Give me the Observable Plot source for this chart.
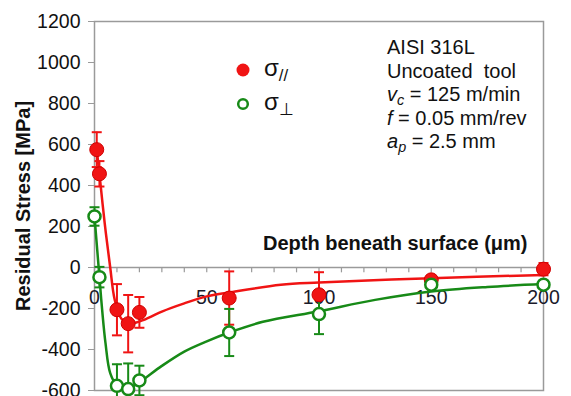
<!DOCTYPE html>
<html>
<head>
<meta charset="utf-8">
<script src="https://cdn.jsdelivr.net/npm/d3@7"></script>
<script src="https://cdn.jsdelivr.net/npm/@observablehq/plot@0.6"></script>
<style>
  body { margin: 0; background: #fff; }
  #wrap { position: relative; width: 571px; height: 396px; font-family: "Liberation Sans", Arial, sans-serif; }
  #wrap > svg { position: absolute; left: 0; top: 0; }
  .note { position: absolute; left: 387px; top: 36px; font-size: 20px; line-height: 23.5px; color: #111; white-space: pre; }
  .leg { position: absolute; left: 264px; font-size: 24px; line-height: 24px; color: #111; white-space: pre; }
  .mk { position: absolute; }
  sub { font-size: 0.72em; vertical-align: -0.3em; line-height: 0; }
</style>
</head>
<body>
<div id="wrap"></div>
<script>
// --- data ---
const depthPar = [1, 2.2, 10, 15, 20, 60, 100, 150, 200];
const stressPar = [575, 457, -206, -274, -219, -149, -133, -60, -8];
const errPar = [85, 62, 125, 140, 75, 130, 110, 20, 30];

const depthPerp = [0, 2.2, 10, 15, 20, 60, 100, 150, 200];
const stressPerp = [249, -47, -577, -593, -551, -317, -227, -84, -84];
const errPerp = [45, 50, 105, 125, 72, 115, 98, 15, 12];

// fitted trend curves
const curveParX = [1, 2.2, 4.5, 7, 9, 12, 15, 18, 22, 30, 40, 50, 60, 83, 100, 150, 200];
const curveParY = [575, 457, 220, 0, -157, -250, -272, -270, -255, -215, -175, -141, -122, -84, -73, -52, -36];
const curvePerpX = [0, 2.2, 3.4, 4.9, 7, 10, 13, 16, 20, 30, 40, 50, 60, 75, 100, 125, 150, 175, 200];
const curvePerpY = [249, -47, -206, -369, -515, -575, -592, -585, -560, -480, -410, -360, -317, -265, -213, -158, -117, -95, -81];

const yTicks = [-600, -400, -200, 0, 200, 400, 600, 800, 1000, 1200];
const xMinor = d3.range(0, 201, 10);
const xLabels = [0, 50, 100, 150, 200];

const RED = "#f01414";
const GREEN = "#178a17";
const GRAY = "#9a9a9a";

const par = depthPar.map((x, i) => ({x, y: stressPar[i], e: errPar[i]}));
const perp = depthPerp.map((x, i) => ({x, y: stressPerp[i], e: errPerp[i]}));
const cPar = curveParX.map((x, i) => ({x, y: curveParY[i]}));
const cPerp = curvePerpX.map((x, i) => ({x, y: curvePerpY[i]}));

const capSymbol = { draw(ctx, size) { const w = 5; ctx.moveTo(-w, 0); ctx.lineTo(w, 0); } };

function errorMarks(data, color) {
  return [
    Plot.ruleX(data, {x: "x", y1: d => d.y - d.e, y2: d => d.y + d.e, stroke: color, strokeWidth: 2}),
    Plot.dot(data, {x: "x", y: d => d.y + d.e, symbol: capSymbol, stroke: color, strokeWidth: 2, r: 5}),
    Plot.dot(data, {x: "x", y: d => d.y - d.e, symbol: capSymbol, stroke: color, strokeWidth: 2, r: 5})
  ];
}

const chart = Plot.plot({
  width: 571,
  height: 396,
  marginLeft: 94,
  marginRight: 28,
  marginTop: 21,
  marginBottom: 6,
  style: {fontFamily: "Liberation Sans, Arial, sans-serif", background: "transparent"},
  x: {domain: [0, 200], axis: null},
  y: {domain: [-600, 1200]},
  marks: [
    Plot.frame({stroke: GRAY, strokeWidth: 1.5}),
    Plot.axisY({ticks: yTicks, tickSize: 6, tickPadding: 8, fontSize: 19.5, tickFormat: d => String(d), label: null, stroke: GRAY, fill: "#111"}),
    Plot.text(["Residual Stress [MPa]"], {frameAnchor: "left", textAnchor: "middle", dx: -71, rotate: -90, fontSize: 20, fontWeight: "bold", fill: "#111"}),
    Plot.ruleY([0], {stroke: GRAY, strokeWidth: 1.5}),
    Plot.ruleX(xMinor, {x: d => d, y1: 0, y2: -26, stroke: GRAY, strokeWidth: 1.2}),
    Plot.text(xLabels, {x: d => d, y: 0, dy: 30, text: d => String(d), fontSize: 19.5, fill: "#1a1a2a"}),
    Plot.text(["Depth beneath surface (μm)"], {frameAnchor: "top-right", dx: -16, dy: 214, fontSize: 20, fontWeight: "bold", fill: "#111"}),
    ...errorMarks(par, RED),
    ...errorMarks(perp, GREEN),
    Plot.line(cPar, {x: "x", y: "y", curve: "catmull-rom", stroke: RED, strokeWidth: 2.5}),
    Plot.line(cPerp, {x: "x", y: "y", curve: "catmull-rom", stroke: GREEN, strokeWidth: 2.5}),
    Plot.dot(par, {x: "x", y: "y", r: 7, fill: RED, stroke: "#d00000", strokeWidth: 1}),
    Plot.dot(perp, {x: "x", y: "y", r: 6, fill: "white", stroke: GREEN, strokeWidth: 2.5})
  ]
});

const wrap = document.getElementById("wrap");
wrap.appendChild(chart);

const note = document.createElement("div");
note.className = "note";
note.innerHTML = "AISI 316L\nUncoated  tool\n<i>v<sub>c</sub></i> = 125 m/min\n<i>f</i> = 0.05 mm/rev\n<i>a<sub>p</sub></i> = 2.5 mm";
wrap.appendChild(note);

function legendItem(cy, markerSvg, label) {
  const m = document.createElement("div");
  m.className = "mk";
  m.style.left = (243 - 9) + "px";
  m.style.top = (cy - 9) + "px";
  m.innerHTML = markerSvg;
  wrap.appendChild(m);
  const t = document.createElement("div");
  t.className = "leg";
  t.style.top = (cy - 14) + "px";
  t.innerHTML = label;
  wrap.appendChild(t);
}
legendItem(70, `<svg width="18" height="18"><circle cx="9" cy="9" r="6.5" fill="${RED}"/></svg>`, "σ<sub style='font-size:0.7em'>//</sub>");
legendItem(104, `<svg width="18" height="18"><circle cx="9" cy="9" r="4.8" fill="white" stroke="${GREEN}" stroke-width="2.5"/></svg>`, "σ<sub style='font-size:0.7em'>⊥</sub>");
</script>
</body>
</html>
